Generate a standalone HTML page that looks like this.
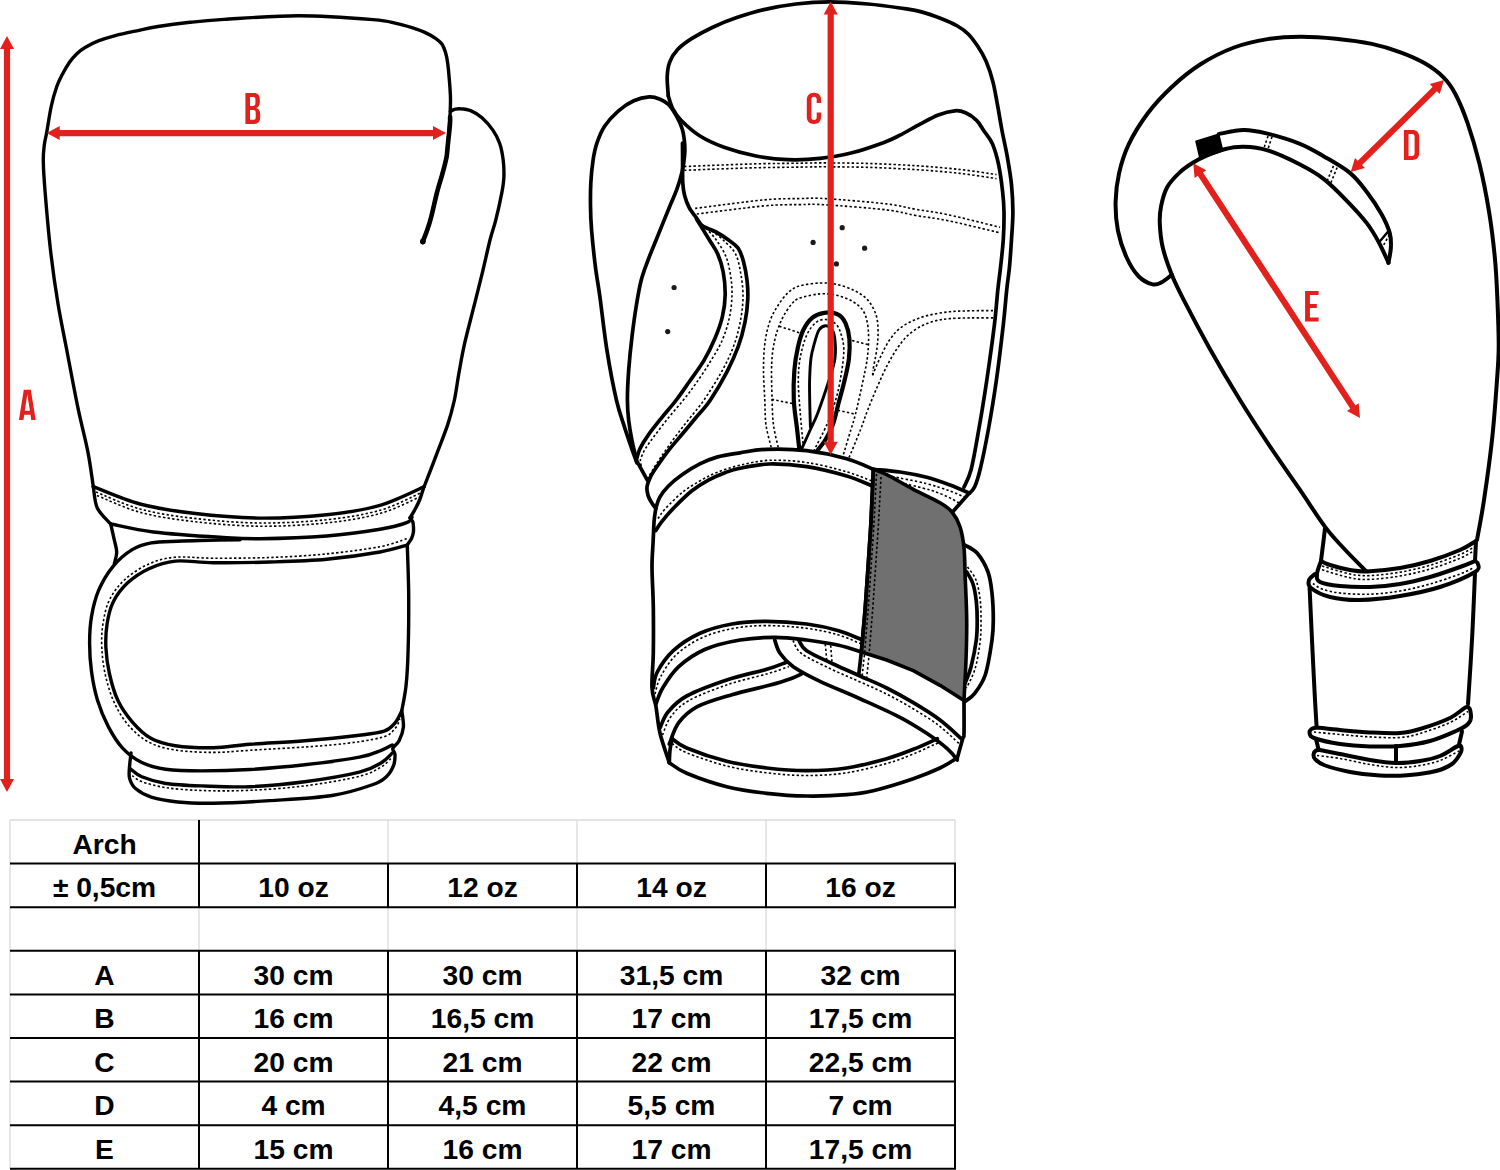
<!DOCTYPE html>
<html><head><meta charset="utf-8"><title>Glove size chart</title>
<style>
html,body{margin:0;padding:0;background:#fff;}
body{width:1500px;height:1170px;overflow:hidden;position:relative;font-family:"Liberation Sans",sans-serif;}
svg{position:absolute;left:0;top:0;display:block;}
.k{fill:none;stroke:#000;stroke-width:3.5;stroke-linecap:round;stroke-linejoin:round;}
.g1 .k{stroke-width:3.4;}
.g2 .k{stroke-width:3.7;}
.g3 .k{stroke-width:4;}
.k2{fill:none;stroke:#000;stroke-width:2.4;stroke-linecap:round;stroke-linejoin:round;}
.w{fill:#fff;stroke:#000;stroke-width:3;stroke-linecap:round;stroke-linejoin:round;}
.d{fill:none;stroke:#000;stroke-width:1.6;stroke-dasharray:2.4 2.25;}
.r{fill:#e3211c;stroke:none;}
.t{font-family:"Liberation Sans",sans-serif;font-weight:bold;font-size:28.2px;fill:#000;text-anchor:middle;}
</style></head><body>
<svg width="1500" height="1170" viewBox="0 0 1500 1170">
<rect x="0" y="0" width="1500" height="1170" fill="#fff"/>
<!-- glove 1 front view -->
<g class="g1">
<path class="k" d="M93.3 486.6C92.4 480.9 90.5 465.5 88.0 452.4C85.5 439.3 81.5 425.0 78.0 408.1C74.5 391.2 70.3 368.6 67.0 351.2C63.7 333.8 60.8 320.7 58.0 303.8C55.2 286.9 52.6 268.5 50.5 250.1C48.4 231.7 46.4 207.9 45.2 193.2C44.0 178.4 43.4 169.6 43.3 161.6C43.1 153.6 43.8 149.8 44.3 145.0C44.8 140.2 45.4 139.5 46.6 133.0C47.8 126.5 49.6 113.7 51.3 106.0C53.0 98.3 54.9 92.0 56.7 86.8C58.5 81.6 59.9 79.2 62.0 75.1C64.1 71.0 67.0 65.9 69.5 62.3C72.0 58.7 74.2 56.2 76.9 53.7C79.6 51.2 81.9 49.4 85.5 47.3C89.1 45.2 93.3 42.8 98.3 40.9C103.3 39.0 108.9 37.3 115.3 35.6C121.7 33.9 129.6 32.3 136.7 30.8C143.8 29.3 149.1 27.9 158.0 26.5C166.9 25.1 179.0 23.5 190.0 22.3C201.0 21.1 205.9 20.5 224.0 19.4C242.1 18.3 273.8 15.7 298.7 15.7C323.6 15.7 357.1 18.3 373.3 19.6C389.5 20.9 389.6 22.0 396.0 23.3C402.4 24.6 407.2 26.1 412.0 27.6C416.8 29.1 420.9 30.6 424.8 32.4C428.7 34.2 432.6 36.3 435.5 38.3C438.4 40.2 440.2 41.7 441.9 44.1C443.6 46.5 444.6 49.5 445.6 52.7C446.6 55.9 447.1 58.9 447.7 63.3C448.3 67.7 448.9 74.0 449.3 79.3C449.8 84.6 450.2 90.8 450.4 95.3C450.6 99.8 450.5 102.2 450.4 106.0C450.3 109.8 450.3 111.3 449.9 117.8C449.5 124.3 448.4 138.5 447.8 145.1C447.2 151.7 447.4 152.6 446.5 157.4C445.6 162.2 444.0 167.9 442.4 173.8C440.8 179.7 438.7 185.8 436.9 192.9C435.1 200.0 433.0 210.0 431.4 216.2C429.8 222.3 428.8 225.5 427.3 229.8C425.8 234.1 423.4 240.1 422.6 242.1"/>
<path class="k" d="M450.1 117.0C450.1 118.3 450.3 120.3 449.9 125.0C449.5 129.7 448.4 139.7 447.8 145.1C447.2 150.5 447.4 152.6 446.5 157.4C445.6 162.2 444.0 167.9 442.4 173.8C440.8 179.7 438.7 185.8 436.9 192.9C435.1 200.0 433.0 210.0 431.4 216.2C429.8 222.3 428.8 225.5 427.3 229.8C425.8 234.1 423.4 240.1 422.6 242.1" style="stroke-width:4.6"/>
<circle cx="422.9" cy="241.3" r="2.9" fill="#000"/>
<path class="k" d="M450.4 111.3C451.1 111.0 453.1 109.8 454.7 109.4C456.3 109.0 457.4 108.5 460.1 108.8C462.8 109.0 467.5 109.4 471.1 110.9C474.8 112.4 478.4 114.6 482.0 117.8C485.6 121.0 489.9 125.8 492.9 130.1C495.9 134.4 498.1 138.7 499.8 143.7C501.5 148.7 502.5 154.6 503.2 160.1C503.9 165.6 504.1 171.0 503.9 176.5C503.7 182.0 503.2 185.6 501.8 192.9C500.4 200.2 497.7 212.5 495.7 220.3C493.7 228.2 492.2 231.2 490.0 240.0C487.8 248.8 485.0 261.8 482.2 273.3C479.4 284.8 476.3 297.0 473.3 308.9C470.3 320.8 466.8 333.7 464.4 344.4C462.0 355.1 460.6 364.0 458.9 373.3C457.2 382.6 456.2 391.5 454.4 400.0C452.5 408.5 450.6 415.9 447.8 424.4C445.0 432.9 441.7 440.8 437.8 451.1C433.9 461.5 426.5 480.6 424.2 486.5"/>
<path class="k" d="M93.3 486.7C101.1 489.6 123.3 499.6 140.0 504.0C156.7 508.4 173.3 510.9 193.3 513.3C213.3 515.6 237.8 517.9 260.0 518.1C282.2 518.3 306.7 516.8 326.7 514.7C346.7 512.6 363.8 510.0 380.0 505.3C396.2 500.6 416.7 489.8 424.0 486.7"/>
<path class="k" d="M93.3 486.7C94.0 490.2 94.4 501.8 97.3 508.0C100.2 514.2 108.5 521.3 110.7 524.0"/>
<path class="k" d="M110.7 524.0C117.8 525.3 135.1 529.8 153.3 532.0C171.5 534.2 202.2 536.2 220.0 537.3C237.8 538.4 242.2 538.9 260.0 538.7C277.8 538.5 306.7 537.6 326.7 536.0C346.7 534.4 366.7 531.5 380.0 529.3C393.3 527.1 401.4 524.7 406.7 522.7C412.0 520.7 411.1 518.2 412.0 517.3"/>
<path class="k" d="M424.0 486.7C423.3 488.9 421.2 496.0 419.6 500.0C418.0 504.0 415.8 507.9 414.2 510.9C412.6 513.9 410.7 516.6 410.0 517.8"/>
<path class="k" d="M410.0 517.8C410.5 518.5 412.2 520.3 412.8 521.9C413.4 523.5 413.4 525.7 413.5 527.5C413.6 529.3 413.6 531.0 413.3 532.8C413.0 534.6 412.5 536.5 411.5 538.5C410.5 540.5 408.2 543.5 407.5 544.5"/>
<path class="d" d="M96.0 492.0C103.3 494.8 123.8 504.6 140.0 509.0C156.2 513.4 173.3 516.0 193.3 518.3C213.3 520.6 237.8 522.8 260.0 523.0C282.2 523.2 306.7 521.8 326.7 519.7C346.7 517.6 364.4 514.7 380.0 510.3C395.6 505.9 413.3 496.1 420.0 493.3"/>
<path class="d" d="M97.0 495.5C104.2 498.3 124.0 508.0 140.0 512.3C156.1 516.6 173.3 519.2 193.3 521.5C213.3 523.8 237.8 526.0 260.0 526.2C282.2 526.4 306.7 525.0 326.7 522.9C346.7 520.8 364.6 517.8 380.0 513.5C395.4 509.2 412.5 500.0 419.0 497.3"/>
<path class="k" d="M110.7 524.0C111.3 526.7 113.3 535.3 114.3 540.0C115.3 544.7 116.7 548.0 116.7 552.0C116.7 556.0 114.7 561.9 114.3 563.9"/>
<path class="k" d="M240.0 539.8C233.3 539.9 210.4 540.3 200.0 540.5C189.6 540.7 185.8 540.8 177.7 541.2C169.6 541.6 158.9 541.5 151.3 542.9C143.7 544.3 138.6 545.7 132.2 549.6C125.8 553.5 118.7 559.5 113.1 566.3C107.5 573.1 102.3 581.8 98.7 590.2C95.1 598.6 93.0 607.8 91.5 616.6C90.0 625.4 89.6 633.7 89.6 642.9C89.6 652.1 90.2 662.0 91.5 671.6C92.8 681.2 94.7 691.1 97.5 700.3C100.3 709.5 104.1 718.6 108.3 726.6C112.5 734.6 117.0 742.1 122.6 748.1C128.2 754.1 134.6 759.0 141.8 762.5C149.0 766.0 155.7 767.8 165.7 769.2C175.7 770.6 187.5 770.9 201.6 770.9C215.7 770.9 232.8 770.5 250.0 769.5C267.2 768.5 286.5 766.8 304.7 764.8C322.9 762.8 346.6 759.6 359.4 757.2C372.2 754.8 375.8 752.3 381.3 750.3C386.8 748.2 390.5 745.8 392.3 744.9"/>
<path class="k" d="M407.3 545.1C402.8 546.2 393.4 549.6 380.0 552.0C366.6 554.4 345.0 557.5 326.7 559.2C308.4 560.9 288.9 561.4 270.0 562.0C251.1 562.6 229.3 562.9 213.5 562.7C197.7 562.6 186.1 560.1 175.3 561.1C164.5 562.1 156.9 565.0 148.9 568.7C140.9 572.4 133.4 577.5 127.4 583.1C121.4 588.7 116.5 595.4 113.1 602.2C109.7 609.0 108.3 616.1 107.1 623.7C105.9 631.3 105.5 639.3 105.9 647.7C106.3 656.1 107.5 665.2 109.5 674.0C111.5 682.8 114.0 692.3 117.8 700.3C121.6 708.3 126.6 715.4 132.2 721.8C137.8 728.2 144.1 734.6 151.3 738.6C158.5 742.6 164.9 744.2 175.3 745.7C185.7 747.2 201.1 747.9 213.5 747.7C225.9 747.5 234.8 745.4 250.0 744.3C265.2 743.1 286.5 742.3 304.7 740.8C322.9 739.3 346.2 736.9 359.4 735.3C372.6 733.7 378.2 733.2 384.1 731.2C390.0 729.2 392.1 726.2 395.0 723.0C397.9 719.8 400.2 713.8 401.3 712.0"/>
<path class="d" d="M406.7 538.7C402.2 540.0 393.3 544.2 380.0 546.7C366.7 549.2 345.0 552.1 326.7 553.9C308.4 555.7 288.9 556.8 270.0 557.5C251.1 558.2 229.3 558.2 213.5 558.2C197.7 558.2 186.1 556.2 175.3 557.2C164.5 558.2 157.3 560.2 148.9 563.9C140.5 567.6 131.6 573.5 125.0 579.5C118.4 585.5 113.2 592.4 109.5 599.8C105.8 607.2 104.3 615.7 103.0 623.7C101.7 631.7 101.4 639.1 101.8 647.7C102.2 656.3 103.3 666.0 105.4 675.2C107.5 684.4 110.4 694.3 114.3 702.7C118.2 711.1 122.8 718.8 128.6 725.4C134.4 732.0 141.1 738.1 148.9 742.2C156.7 746.3 164.5 748.3 175.3 750.0C186.1 751.7 201.1 752.4 213.5 752.4C225.9 752.4 230.2 751.5 250.0 750.3C269.8 749.0 310.2 747.0 332.1 744.9C354.0 742.8 370.8 740.2 381.3 737.5C391.8 734.8 391.9 731.6 395.0 728.5C398.1 725.4 399.1 720.5 399.9 718.9"/>
<path class="k" d="M407.3 545.1C407.5 553.5 408.6 578.2 408.7 595.8C408.8 613.4 408.6 635.5 408.1 650.5C407.7 665.5 407.1 676.0 406.0 686.0C404.9 696.0 402.5 706.6 401.8 710.7"/>
<path class="k" d="M401.8 710.7C402.1 713.4 403.8 722.1 403.4 727.1C402.9 732.1 400.9 737.2 399.1 740.8C397.3 744.4 393.5 746.2 392.8 748.5C392.1 750.8 394.9 751.6 395.0 754.4C395.1 757.2 395.0 761.8 393.6 765.4C392.2 769.0 390.2 773.1 386.8 776.3C383.4 779.5 382.2 781.3 373.1 784.5C364.0 787.7 349.3 792.8 332.1 795.5C314.9 798.2 289.8 799.3 270.0 800.6C250.2 801.9 228.9 803.0 213.5 803.2C198.1 803.4 188.1 803.0 177.7 802.0C167.3 801.0 158.3 799.4 151.3 797.2C144.3 795.0 139.4 791.8 135.8 788.8C132.2 785.8 130.9 782.4 129.8 779.2C128.7 776.0 129.1 774.1 129.3 769.7C129.5 765.3 130.7 755.7 131.0 752.9"/>
<path class="k" d="M130.5 769.0C132.4 770.3 135.9 774.4 141.8 776.8C147.7 779.2 155.7 782.0 165.7 783.5C175.7 785.0 187.5 785.4 201.6 785.9C215.7 786.4 232.8 787.4 250.0 786.7C267.2 786.0 286.5 784.2 304.7 781.8C322.9 779.4 346.6 775.4 359.4 772.2C372.2 769.0 375.8 765.9 381.3 762.7C386.8 759.5 390.5 754.7 392.3 753.1"/>
<path class="d" d="M132.2 775.6C133.8 776.6 136.2 779.6 141.8 781.6C147.4 783.6 155.7 786.1 165.7 787.6C175.7 789.1 187.5 790.0 201.6 790.5C215.7 791.0 232.8 791.1 250.0 790.3C267.2 789.5 286.5 788.2 304.7 785.9C322.9 783.6 346.6 779.5 359.4 776.3C372.2 773.1 376.1 769.8 381.3 766.8C386.6 763.8 389.3 759.9 390.9 758.5"/>
</g>
<!-- glove 2 palm view -->
<g class="g2">
<path class="k" d="M668.3 96.0C668.1 92.8 667.0 82.4 667.2 76.8C667.4 71.2 667.9 66.9 669.6 62.4C671.3 57.9 673.9 53.6 677.6 49.6C681.3 45.6 686.1 42.1 692.0 38.4C697.9 34.7 705.3 30.7 712.8 27.2C720.3 23.7 728.3 20.5 736.8 17.6C745.3 14.7 754.1 11.9 764.0 9.6C773.9 7.3 785.1 5.3 796.0 4.0C806.9 2.7 817.6 1.9 829.6 1.9C841.6 1.9 856.3 3.0 868.0 4.0C879.7 5.0 891.2 6.7 900.0 8.0C908.8 9.3 913.7 9.8 920.5 11.6C927.3 13.3 934.9 16.1 941.0 18.5C947.1 20.9 952.8 23.4 957.4 26.0C962.0 28.6 965.0 30.8 968.4 34.2C971.8 37.6 974.9 42.0 977.9 46.5C980.9 51.0 983.7 55.6 986.2 61.5C988.7 67.4 991.1 74.6 993.0 82.1C994.9 89.6 996.3 98.7 997.8 106.7C999.3 114.7 1000.3 121.5 1001.9 130.0C1003.5 138.4 1005.8 148.3 1007.4 157.4C1009.0 166.5 1010.6 175.6 1011.5 184.7C1012.4 193.8 1012.9 203.0 1012.9 212.1C1012.9 221.2 1012.1 230.3 1011.5 239.4C1010.9 248.5 1010.3 258.4 1009.5 266.8C1008.7 275.2 1007.7 280.4 1006.7 290.0C1005.7 299.6 1005.0 309.8 1003.3 324.7C1001.6 339.6 999.0 361.8 996.5 379.4C994.0 396.9 991.0 414.9 988.3 430.0C985.5 445.1 982.3 460.6 980.0 470.0C977.7 479.4 976.5 482.8 974.7 486.7C972.9 490.6 970.2 492.2 969.3 493.3"/>
<path class="k" d="M668.3 96.0C669.0 98.1 670.7 104.8 672.8 108.8C674.9 112.8 676.3 115.5 680.8 120.0C685.3 124.5 692.8 131.5 700.0 136.0C707.2 140.5 714.7 143.9 724.0 147.2C733.3 150.5 745.3 153.9 756.0 156.0C766.7 158.1 777.3 159.3 788.0 159.7C798.7 160.1 809.3 159.6 820.0 158.4C830.7 157.2 841.3 155.5 852.0 152.8C862.7 150.1 876.0 145.3 884.0 142.4C892.0 139.5 893.9 138.3 900.0 135.2C906.1 132.1 914.1 127.2 920.5 123.8C926.9 120.4 932.6 117.1 938.3 114.9C944.0 112.7 950.2 111.2 954.7 110.8C959.2 110.4 962.0 111.2 965.6 112.8C969.2 114.4 973.5 117.3 976.6 120.3C979.7 123.3 981.4 127.1 984.0 131.0C986.6 134.9 990.0 138.2 992.4 143.7C994.8 149.2 996.8 156.2 998.5 164.2C1000.2 172.2 1001.7 183.6 1002.6 191.6C1003.5 199.6 1003.9 204.1 1004.0 212.1C1004.1 220.1 1003.9 230.3 1003.3 239.4C1002.7 248.5 1001.5 258.4 1000.6 266.8C999.7 275.2 998.8 280.4 997.8 290.0C996.8 299.6 996.2 309.8 994.4 324.7C992.6 339.6 989.5 361.8 986.9 379.4C984.3 396.9 981.4 414.9 978.7 430.0C976.1 445.1 973.5 460.5 971.0 470.0C968.5 479.5 965.2 484.2 964.0 487.0"/>
<path class="k" d="M636.9 462.9C636.0 460.4 633.5 453.8 631.5 447.9C629.5 442.0 627.1 435.4 624.6 427.4C622.1 419.4 619.4 413.0 616.4 400.0C613.4 387.0 609.5 366.5 606.8 349.4C604.1 332.3 601.9 311.4 600.0 297.5C598.1 283.6 596.7 277.4 595.3 266.0C593.9 254.6 592.3 239.2 591.5 229.2C590.7 219.2 590.6 213.9 590.5 206.2C590.4 198.5 590.4 190.8 590.8 183.1C591.2 175.4 592.1 166.7 593.1 160.0C594.1 153.3 595.0 148.7 596.9 143.1C598.8 137.5 601.0 131.6 604.6 126.2C608.2 120.8 613.6 115.0 618.5 110.8C623.4 106.6 628.7 103.1 633.8 100.8C638.9 98.5 644.8 97.2 649.2 96.9C653.6 96.6 656.8 97.9 660.0 99.2C663.2 100.5 665.7 101.6 668.5 104.6C671.3 107.5 674.6 112.8 676.9 116.9C679.2 121.0 681.0 124.8 682.3 129.2C683.6 133.6 684.2 138.7 684.6 143.1C685.0 147.5 685.0 150.8 684.6 155.4C684.2 160.0 683.6 165.2 682.3 170.8C681.0 176.4 679.1 183.0 676.9 189.2C674.7 195.3 672.7 199.2 669.2 207.7C665.7 216.2 659.7 231.2 656.1 240.0C652.5 248.8 650.4 253.7 647.9 260.5C645.4 267.3 642.9 273.5 641.0 281.0C639.1 288.5 637.8 296.6 636.3 305.7C634.8 314.8 633.4 325.1 632.1 335.8C630.8 346.5 629.5 359.3 628.7 370.0C627.9 380.7 627.4 391.6 627.4 400.0C627.4 408.4 627.9 413.7 628.7 420.5C629.5 427.3 630.8 434.6 632.1 441.0C633.4 447.4 635.6 455.8 636.3 458.8"/>
<path class="k" d="M682.5 143.1C682.5 146.8 682.6 158.3 682.6 165.0C682.6 171.7 682.5 178.0 682.8 183.1C683.1 188.2 683.5 191.3 684.6 195.4C685.7 199.5 687.2 203.8 689.2 207.7C691.2 211.5 694.6 215.4 696.9 218.5C699.1 221.6 699.5 223.8 702.7 226.1C705.9 228.3 711.7 229.7 716.0 232.0C720.3 234.3 724.9 237.3 728.6 240.0C732.3 242.7 735.7 244.5 738.2 248.2C740.7 251.8 742.1 256.4 743.6 261.9C745.1 267.4 746.4 274.6 747.1 281.0C747.8 287.4 748.1 293.3 747.7 300.2C747.4 307.1 746.6 314.4 745.0 322.1C743.4 329.9 741.2 338.5 738.2 346.7C735.2 354.9 731.8 362.4 727.2 371.3C722.6 380.2 715.6 392.2 710.4 400.0C705.2 407.8 700.5 412.1 695.8 417.8C691.1 423.5 686.7 428.7 682.1 434.2C677.5 439.7 672.5 445.4 668.4 450.6C664.3 455.9 660.5 461.4 657.5 465.7C654.5 470.0 652.4 473.1 650.6 476.6C648.9 480.2 647.4 483.8 647.0 487.0C646.6 490.2 647.3 492.9 648.1 495.6C648.9 498.3 650.7 501.1 652.0 503.2C653.3 505.3 655.2 507.5 655.8 508.4"/>
<path class="k" d="M696.5 219.0C698.6 222.5 705.9 234.2 709.4 240.0C712.9 245.8 715.3 248.4 717.6 253.7C719.9 258.9 721.8 264.7 723.1 271.5C724.4 278.3 725.3 287.2 725.2 294.7C725.1 302.2 724.1 309.3 722.4 316.6C720.7 323.9 718.0 331.2 714.9 338.5C711.8 345.8 708.3 353.1 704.0 360.4C699.7 367.7 693.5 375.7 688.9 382.3C684.3 388.9 680.8 394.1 676.3 400.0C671.8 405.9 666.3 411.9 661.6 417.8C656.9 423.7 651.5 430.4 647.9 435.6C644.2 440.8 641.6 445.1 639.7 449.2C637.8 453.3 636.9 458.4 636.3 460.2"/>
<path class="k" d="M636.3 460.2L647.3 480.2"/>
<path class="d" d="M706.0 228.0C707.7 230.0 713.0 235.3 716.3 240.0C719.6 244.7 723.5 250.5 725.9 256.4C728.3 262.3 729.6 269.2 730.6 275.6C731.6 282.0 732.2 287.6 732.0 294.7C731.8 301.8 731.0 310.2 729.3 318.0C727.6 325.8 725.1 333.7 721.8 341.2C718.5 348.7 713.7 356.0 709.4 363.1C705.1 370.2 700.1 377.5 695.8 383.6C691.5 389.8 688.0 394.3 683.4 400.0C678.8 405.7 673.2 411.9 668.4 417.8C663.6 423.7 658.6 430.4 654.7 435.6C650.8 440.8 647.5 445.1 645.1 449.2C642.7 453.3 641.0 457.4 640.4 460.2C639.8 463.0 641.3 465.0 641.5 466.0"/>
<path class="d" d="M712.0 231.0C713.9 232.5 719.2 236.2 723.1 240.0C727.0 243.8 732.4 248.0 735.4 253.7C738.4 259.4 739.6 266.9 740.9 274.2C742.2 281.5 743.1 289.5 743.0 297.5C742.9 305.5 741.8 313.9 740.2 322.1C738.6 330.3 736.5 338.5 733.4 346.7C730.3 354.9 726.7 362.4 721.8 371.3C716.9 380.2 709.5 392.0 704.0 400.0C698.5 408.0 693.7 413.1 688.9 419.2C684.1 425.3 679.8 430.8 675.2 436.9C670.7 443.0 665.5 450.4 661.6 456.1C657.7 461.8 654.3 467.5 652.0 471.1C649.7 474.8 648.6 476.9 647.9 478.0"/>
<path class="d" d="M684.3 166.5C695.2 166.1 730.7 164.6 750.0 164.0C769.3 163.4 787.5 163.4 800.0 163.2C812.5 163.0 813.6 162.8 825.3 162.9C837.0 163.0 854.7 163.0 870.0 163.5C885.3 164.0 902.3 164.8 917.3 165.8C932.3 166.8 946.8 168.1 960.0 169.5C973.2 170.9 990.4 173.7 996.5 174.5"/>
<path class="d" d="M684.3 170.3C695.2 169.9 730.7 168.4 750.0 167.9C769.3 167.4 787.5 167.3 800.0 167.1C812.5 166.9 813.6 166.8 825.3 166.8C837.0 166.9 854.7 166.9 870.0 167.4C885.3 167.9 902.3 168.7 917.3 169.7C932.3 170.7 946.8 171.9 960.0 173.4C973.2 174.9 990.4 177.7 996.5 178.6"/>
<path class="d" d="M695.2 208.4C706.7 207.0 746.5 201.5 764.0 199.9C781.5 198.3 789.8 198.8 800.0 198.6C810.2 198.4 810.8 197.7 825.3 198.6C839.8 199.5 871.6 202.1 886.7 203.9C901.8 205.7 905.6 207.5 915.8 209.3C926.0 211.1 934.0 211.7 948.0 214.7C962.0 217.7 991.4 225.2 1000.1 227.3"/>
<path class="d" d="M696.8 214.0C708.0 212.7 746.8 207.5 764.0 205.9C781.2 204.3 789.8 204.8 800.0 204.6C810.2 204.4 810.8 203.9 825.3 204.8C839.8 205.7 871.6 208.1 886.7 209.9C901.8 211.7 905.6 213.7 915.8 215.5C926.0 217.3 934.0 217.8 948.0 220.7C962.0 223.6 991.4 230.8 1000.1 232.8"/>
<circle cx="842.2" cy="227.7" r="2.6" fill="#1a1a1a"/>
<circle cx="813.1" cy="242.4" r="2.6" fill="#1a1a1a"/>
<circle cx="864.6" cy="248.2" r="2.6" fill="#1a1a1a"/>
<circle cx="836.4" cy="263.9" r="2.6" fill="#1a1a1a"/>
<circle cx="674.1" cy="287.5" r="2.6" fill="#1a1a1a"/>
<circle cx="667.7" cy="331.6" r="2.6" fill="#1a1a1a"/>
<path class="d" d="M771.2 447.2C770.3 443.5 767.1 432.9 766.0 425.0C764.9 417.1 765.2 409.2 764.8 400.0C764.4 390.8 763.5 379.3 763.5 370.0C763.5 360.7 763.8 352.0 764.8 344.0C765.8 336.0 767.4 328.5 769.6 322.1C771.8 315.7 774.6 310.7 777.8 305.7C781.0 300.7 785.1 295.3 788.8 292.0C792.5 288.7 794.8 287.3 800.0 285.8C805.2 284.3 813.9 283.2 820.0 283.0C826.1 282.8 830.7 283.1 836.4 284.4C842.1 285.6 849.0 287.9 854.2 290.5C859.5 293.1 864.2 296.0 867.9 300.1C871.5 304.2 874.4 309.9 876.1 315.1C877.8 320.4 878.0 325.9 878.1 331.6C878.2 337.3 877.7 342.7 876.8 349.3C875.9 355.9 873.4 367.6 872.7 371.2"/>
<path class="d" d="M778.2 447.2C777.4 443.5 774.5 432.9 773.5 425.0C772.5 417.1 772.4 410.3 772.1 400.0C771.8 389.7 771.2 373.4 771.7 363.1C772.2 352.9 773.4 345.8 775.1 338.5C776.8 331.2 779.2 325.0 781.9 319.3C784.6 313.6 788.5 307.8 791.5 304.3C794.5 300.8 795.2 299.8 800.0 298.1C804.8 296.4 813.9 294.4 820.0 293.9C826.1 293.4 831.1 294.1 836.4 295.3C841.6 296.5 847.2 298.4 851.5 300.8C855.8 303.2 859.8 306.2 862.4 309.7C865.0 313.2 866.2 317.2 867.2 322.0C868.2 326.8 868.6 332.2 868.6 338.4C868.6 344.5 868.2 351.4 867.2 358.9C866.2 366.4 864.3 374.4 862.4 383.5C860.5 392.6 857.5 405.9 855.6 413.6C853.7 421.4 852.9 423.0 850.8 430.0C848.7 437.0 844.4 451.3 843.1 455.6"/>
<path class="d" d="M993.0 310.6C989.2 310.6 977.7 310.6 970.5 310.8C963.3 311.0 956.9 311.0 950.0 311.7C943.1 312.4 935.6 313.6 929.4 315.1C923.2 316.6 918.0 318.3 913.0 320.6C908.0 322.9 903.2 325.6 899.3 328.8C895.4 332.0 892.7 335.5 889.7 339.8C886.7 344.1 884.0 349.8 881.5 354.8C879.0 359.8 876.2 366.5 874.7 369.9C873.2 373.3 873.0 374.4 872.7 375.3"/>
<path class="d" d="M872.7 375.3L872.7 371.2"/>
<path class="d" d="M993.0 317.9C989.2 317.9 977.7 317.8 970.5 317.9C963.3 318.0 955.7 318.2 950.0 318.6C944.3 319.1 941.1 319.4 936.3 320.6C931.5 321.9 926.0 323.6 921.2 326.1C916.4 328.6 911.6 331.8 907.5 335.7C903.4 339.6 900.0 344.3 896.6 349.3C893.2 354.3 890.2 359.6 887.0 365.8C883.8 372.0 880.7 379.0 877.5 386.3C874.3 393.6 870.8 402.2 867.9 409.5C865.0 416.8 863.6 421.9 860.4 430.0C857.2 438.1 850.7 453.7 848.7 458.4"/>
<path class="d" d="M779.2 326.2L800.0 333.0"/>
<path class="d" d="M852.1 340.5L867.9 344.6"/>
<path class="d" d="M771.7 399.4L794.7 404.0"/>
<path class="d" d="M837.8 410.2L855.6 414.3"/>
<path class="k" d="M799.2 448.2C798.8 444.9 797.9 436.5 797.0 428.5C796.1 420.5 794.2 409.8 793.8 400.0C793.4 390.2 793.7 378.7 794.4 370.0C795.1 361.3 796.3 354.5 797.8 347.8C799.3 341.1 800.9 335.0 803.3 330.0C805.7 325.0 808.7 320.7 812.2 317.8C815.7 314.9 820.1 313.4 824.4 312.8C828.7 312.2 834.3 312.6 837.8 314.4C841.3 316.1 843.7 319.2 845.6 323.3C847.5 327.4 848.9 333.0 849.4 338.9C849.9 344.8 849.7 351.9 848.9 358.9C848.1 365.9 846.1 373.8 844.4 381.1C842.7 388.5 840.5 395.7 838.6 403.0C836.7 410.3 835.0 418.7 832.8 424.8C830.6 430.9 828.0 435.4 825.4 439.8C822.8 444.2 818.4 449.1 817.0 451.0" style="stroke-width:4.2"/>
<path class="k2" d="M810.4 427.0C810.3 422.5 809.8 407.8 809.7 400.0C809.6 392.2 809.4 387.0 809.6 380.0C809.8 373.0 810.2 364.2 811.0 358.0C811.8 351.8 813.3 347.4 814.6 342.7C815.9 338.0 817.2 332.8 819.0 330.0C820.8 327.2 823.3 326.1 825.3 325.8C827.3 325.6 829.5 326.7 831.0 328.5C832.5 330.3 833.8 331.6 834.5 336.5C835.2 341.4 835.9 350.8 835.0 358.0C834.1 365.2 832.0 370.9 829.1 380.0C826.2 389.1 821.0 404.4 817.9 412.7C814.8 420.9 813.0 423.6 810.4 429.5C807.8 435.4 803.4 445.1 802.0 448.2" style="stroke-width:2.9"/>
<path class="d" d="M803.0 443.5C802.5 437.9 800.8 420.6 800.0 410.0C799.2 399.4 798.2 389.0 798.3 380.0C798.4 371.0 799.0 363.6 800.5 356.0C802.0 348.4 804.4 340.1 807.0 334.5C809.6 328.9 813.0 325.0 816.0 322.5C819.0 320.0 822.3 319.5 825.3 319.5C828.3 319.5 831.5 320.6 834.0 322.5C836.5 324.4 838.4 326.4 840.0 331.0C841.6 335.6 843.8 341.8 843.8 350.0C843.8 358.2 841.8 371.1 840.3 380.0C838.8 388.9 836.9 396.0 834.7 403.3C832.5 410.6 830.6 416.1 827.2 423.9C823.8 431.7 816.4 445.6 814.2 450.0"/>
<!-- glove 2 cuff -->
<path class="k" d="M655.8 508.4C656.4 506.5 657.6 501.0 659.7 497.3C661.8 493.6 664.4 490.1 668.2 486.2C672.0 482.3 677.4 477.9 682.7 474.2C688.0 470.5 694.1 466.8 699.8 463.9C705.5 461.0 710.2 459.0 716.9 457.1C723.6 455.2 731.7 454.1 740.0 452.8C748.3 451.5 755.6 449.7 766.7 449.3C777.8 448.9 793.4 449.1 806.7 450.7C820.0 452.3 835.6 455.6 846.7 458.7C857.8 461.8 868.9 467.5 873.3 469.3"/>
<path class="k" d="M655.8 530.6C656.7 529.2 658.3 526.0 661.4 522.1C664.5 518.2 669.2 512.6 674.2 507.5C679.2 502.4 685.6 495.9 691.3 491.3C697.0 486.8 702.7 483.3 708.4 480.2C714.1 477.1 720.2 474.5 725.5 472.5C730.8 470.5 732.7 469.6 740.0 468.2C747.3 466.8 758.2 464.2 769.3 464.0C780.4 463.8 793.8 464.7 806.7 466.7C819.6 468.7 836.0 472.9 846.7 476.0C857.4 479.1 867.0 483.9 871.0 485.5"/>
<path class="d" d="M657.9 518.6C659.2 516.9 661.5 512.8 665.6 508.4C669.7 504.0 677.0 496.7 682.7 492.1C688.4 487.5 694.1 484.3 699.8 481.0C705.5 477.7 710.2 475.1 716.9 472.5C723.6 469.9 731.3 467.2 740.0 465.2C748.7 463.2 758.2 460.8 769.3 460.3C780.4 459.9 793.8 460.6 806.7 462.5C819.6 464.4 835.8 468.7 846.7 471.8C857.6 474.9 867.8 479.5 872.0 481.0"/>
<path class="k" d="M655.8 508.4C655.5 510.5 654.5 515.9 654.1 521.2C653.7 526.5 653.6 532.4 653.2 540.0C652.9 547.6 652.0 555.6 652.0 566.7C652.0 577.8 653.1 592.3 653.3 606.7C653.5 621.1 653.5 639.8 653.3 653.3C653.1 666.8 651.5 679.1 652.0 688.0C652.5 696.9 654.7 699.2 656.0 706.7C657.3 714.2 657.8 724.0 660.0 733.3C662.2 742.6 667.8 757.8 669.3 762.7"/>
<path class="k" d="M873.3 469.3C877.8 469.8 891.1 470.7 900.0 472.0C908.9 473.3 918.4 475.1 926.7 477.3C935.0 479.5 942.9 482.4 950.0 485.0C957.1 487.6 966.1 491.7 969.3 493.0"/>
<path class="k" d="M969.3 493.0L953.0 511.5"/>
<path class="d" d="M892.0 476.5C897.7 477.7 916.3 481.1 926.0 483.5C935.7 485.9 943.6 488.8 950.0 491.0C956.4 493.2 962.1 496.0 964.5 497.0"/>
<path class="d" d="M900.0 482.5C905.0 483.8 922.0 487.6 930.0 490.0C938.0 492.4 943.2 494.8 948.0 497.0C952.8 499.2 957.2 502.0 959.0 503.0"/>
<path d="M873.3 469.3C875.5 470.2 880.0 471.4 886.7 474.7C893.4 478.0 904.4 484.6 913.3 489.3C922.2 494.0 933.5 498.9 940.0 502.7C946.5 506.5 948.7 508.0 952.0 512.0C955.3 516.0 958.0 520.7 960.0 526.7C962.0 532.7 963.1 539.1 964.0 548.0C964.9 556.9 964.8 568.0 965.3 580.0C965.8 592.0 966.6 606.7 966.7 620.0C966.8 633.3 966.5 646.6 966.0 660.0C965.5 673.4 964.3 693.8 964.0 700.5L940.0 685.3L913.3 670.7L886.7 660.0L861.3 652.0L865.3 606.7L870.7 526.7Z" fill="#707070" stroke="#000" stroke-width="3.6" stroke-linejoin="round"/>
<path class="k" d="M873.3 469.3C872.9 478.9 872.0 503.8 870.7 526.7C869.4 549.6 866.9 585.8 865.3 606.7C863.7 627.6 862.4 640.6 861.3 652.0C860.2 663.4 859.1 671.2 858.7 675.0"/>
<path class="d" d="M876.5 474.0L873.8 526.7L868.4 606.7L864.4 655.0L862.0 677.0"/>
<path class="d" d="M881.0 477.0L878.3 526.7L872.9 606.7L868.9 657.0L866.5 679.0"/>
<path class="k" d="M965.3 545.3C967.3 546.6 973.5 548.8 977.3 553.3C981.1 557.8 985.5 565.3 988.0 572.0C990.5 578.7 991.1 585.3 992.0 593.3C992.9 601.3 993.3 612.2 993.3 620.0C993.3 627.8 993.3 630.9 992.0 640.0C990.7 649.1 988.2 665.8 985.3 674.7C982.4 683.6 978.0 688.9 974.7 693.3C971.4 697.7 966.9 700.0 965.3 701.3"/>
<path class="k" d="M966.7 572.0C967.8 574.0 971.4 579.1 973.0 584.0C974.6 588.9 975.6 595.3 976.3 601.3C977.0 607.3 977.2 613.5 977.2 620.0C977.2 626.5 977.3 632.2 976.3 640.0C975.3 647.8 972.8 659.9 971.0 667.0C969.2 674.1 966.2 680.1 965.3 682.7"/>
<path class="d" d="M967.5 567.0C968.9 569.2 973.9 574.5 976.0 580.0C978.1 585.5 979.4 593.3 980.2 600.0C981.0 606.7 981.0 613.2 981.0 620.0C981.0 626.8 981.2 632.8 980.2 641.0C979.2 649.2 977.3 661.2 975.0 669.0C972.7 676.8 967.9 684.8 966.5 688.0"/>
<path class="k" d="M653.3 688.0C654.0 685.3 654.0 678.2 657.3 672.0C660.6 665.8 666.2 657.2 673.3 650.7C680.4 644.2 690.2 637.8 700.0 633.3C709.8 628.8 720.9 626.0 732.0 624.0C743.1 622.0 754.2 621.3 766.7 621.3C779.2 621.3 794.7 622.4 806.7 624.0C818.7 625.6 829.4 628.0 838.7 630.7C848.0 633.4 858.7 638.5 862.7 640.0"/>
<path class="k" d="M656.0 704.0C657.1 701.3 658.9 694.2 662.7 688.0C666.5 681.8 671.6 673.2 678.7 666.7C685.8 660.2 695.1 653.8 705.3 649.3C715.5 644.8 728.4 642.0 740.0 640.0C751.6 638.0 763.6 637.3 774.7 637.3C785.8 637.3 796.0 638.7 806.7 640.0C817.4 641.3 829.6 643.3 838.7 645.3C847.8 647.3 857.5 650.9 861.3 652.0"/>
<path class="d" d="M655.0 694.0C655.9 691.2 657.0 683.5 660.5 677.0C664.0 670.5 669.1 661.5 676.0 655.0C682.9 648.5 692.3 642.2 702.0 637.7C711.7 633.2 723.2 630.3 734.0 628.3C744.8 626.3 754.6 625.6 766.7 625.6C778.8 625.6 794.7 626.7 806.7 628.3C818.7 629.9 829.5 632.3 838.7 635.0C847.9 637.7 858.1 642.8 862.0 644.3"/>
<path class="k" d="M660.0 728.0C661.3 725.3 663.5 717.3 668.0 712.0C672.5 706.7 676.9 701.3 686.7 696.0C696.5 690.7 713.4 684.5 726.7 680.0C740.0 675.5 756.9 672.2 766.7 669.3C776.5 666.4 782.2 663.8 785.3 662.7"/>
<path class="k" d="M669.3 744.0C670.9 740.5 674.0 728.9 678.7 722.7C683.4 716.5 688.4 711.4 697.3 706.7C706.2 702.0 720.0 698.3 732.0 694.7C744.0 691.1 759.5 688.0 769.3 685.3C779.1 682.6 785.1 680.7 790.7 678.7C796.3 676.7 800.7 674.2 802.7 673.3"/>
<path class="d" d="M662.5 735.0C663.9 731.9 666.6 722.2 671.0 716.5C675.4 710.8 679.5 705.8 689.0 700.5C698.5 695.2 714.8 689.0 728.0 684.5C741.2 680.0 757.8 676.6 768.0 673.6C778.2 670.6 785.5 667.7 789.0 666.5"/>
<path class="k" d="M774.7 640.0C775.6 642.2 776.9 648.8 780.0 653.3C783.1 657.8 786.6 662.0 793.3 666.7C800.0 671.4 808.9 676.0 820.0 681.3C831.1 686.6 846.7 692.7 860.0 698.7C873.3 704.7 888.9 711.5 900.0 717.3C911.1 723.1 918.7 728.0 926.7 733.3C934.7 738.6 942.9 744.8 948.0 749.3C953.1 753.8 955.8 758.2 957.3 760.0"/>
<path class="k" d="M798.7 640.0C800.0 641.8 800.9 646.7 806.7 650.7C812.5 654.7 824.4 659.8 833.3 664.0C842.2 668.2 851.1 672.0 860.0 676.0C868.9 680.0 877.8 683.5 886.7 688.0C895.6 692.5 904.4 697.4 913.3 702.7C922.2 708.0 932.0 714.0 940.0 720.0C948.0 726.0 957.8 735.6 961.3 738.7"/>
<path class="d" d="M793.0 640.5C794.4 642.7 795.3 648.8 801.5 653.5C807.7 658.2 820.6 663.9 830.0 668.5C839.4 673.1 848.9 676.9 858.0 681.0C867.1 685.1 875.7 688.6 884.5 693.0C893.3 697.4 902.2 702.2 911.0 707.5C919.8 712.8 929.5 718.5 937.5 724.5C945.5 730.5 955.4 740.3 959.0 743.5"/>
<path class="d" d="M825.3 644.0L826.7 660.0"/>
<path class="d" d="M830.7 645.3L832.0 662.4"/>
<path class="k" d="M964.0 700.5C964.0 706.0 964.2 726.9 964.0 733.3C963.8 739.7 963.8 734.6 962.7 738.7C961.6 742.8 958.2 754.8 957.3 758.0"/>
<path class="k" d="M669.3 762.7C672.2 764.5 677.1 769.3 686.7 773.3C696.3 777.3 713.4 783.4 726.7 786.7C740.0 790.0 753.4 791.8 766.7 793.3C780.0 794.8 793.4 795.8 806.7 796.0C820.0 796.2 835.6 795.6 846.7 794.7C857.8 793.8 862.2 793.4 873.3 790.7C884.4 788.0 902.2 782.5 913.3 778.7C924.4 774.9 932.9 771.3 940.0 768.0C947.1 764.7 953.3 760.2 956.0 758.7"/>
<path class="k" d="M672.0 738.7C674.5 740.2 677.6 744.2 686.7 748.0C695.8 751.8 713.4 758.0 726.7 761.3C740.0 764.6 753.4 766.4 766.7 768.0C780.0 769.6 793.4 770.7 806.7 770.7C820.0 770.7 833.4 770.0 846.7 768.0C860.0 766.0 875.6 761.8 886.7 758.7C897.8 755.6 904.9 752.6 913.3 749.3C921.7 746.0 933.3 740.5 937.3 738.7"/>
<path class="d" d="M672.0 743.5C674.5 745.0 677.6 749.0 686.7 752.8C695.8 756.5 713.4 762.7 726.7 766.0C740.0 769.3 753.4 771.2 766.7 772.8C780.0 774.4 793.4 775.5 806.7 775.5C820.0 775.5 833.4 774.8 846.7 772.8C860.0 770.8 875.6 766.6 886.7 763.5C897.8 760.4 904.2 757.7 913.3 754.0C922.3 750.3 936.4 743.6 941.0 741.5"/>
<path class="k" d="M672.0 738.7C671.7 740.6 670.5 746.0 670.0 750.0C669.5 754.0 669.4 760.6 669.3 762.7"/>
</g>
<!-- glove 3 side view -->
<g class="g3">
<path class="k" d="M1171.8 274.8C1170.2 276.0 1165.4 280.4 1162.2 282.0C1159.0 283.6 1156.6 285.4 1152.6 284.4C1148.6 283.4 1142.7 280.6 1138.3 276.0C1133.9 271.4 1129.7 264.4 1126.3 256.8C1122.9 249.2 1119.7 239.7 1117.9 230.5C1116.1 221.3 1115.4 211.4 1115.6 201.8C1115.8 192.2 1116.9 182.7 1119.1 173.1C1121.3 163.5 1123.9 154.4 1128.7 144.4C1133.5 134.4 1140.6 122.9 1147.8 113.3C1155.0 103.7 1163.0 95.2 1171.8 87.0C1180.6 78.8 1190.1 70.9 1200.5 64.3C1210.9 57.7 1222.8 51.7 1234.0 47.5C1245.2 43.3 1256.5 40.9 1267.5 39.1C1278.5 37.3 1288.6 36.8 1300.0 36.7C1311.4 36.6 1323.9 37.5 1335.9 38.7C1347.9 39.9 1361.0 41.6 1371.8 43.9C1382.6 46.2 1391.7 49.1 1400.5 52.3C1409.3 55.5 1417.2 58.9 1424.4 63.1C1431.6 67.3 1438.3 72.2 1443.5 77.4C1448.7 82.6 1451.5 86.6 1455.5 94.2C1459.5 101.8 1463.5 111.4 1467.5 122.9C1471.5 134.5 1475.8 148.8 1479.4 163.5C1483.0 178.2 1486.4 195.5 1489.0 211.4C1491.6 227.3 1493.6 244.4 1495.0 259.2C1496.4 273.9 1496.8 285.3 1497.4 299.9C1498.0 314.5 1498.8 333.3 1498.7 346.7C1498.6 360.1 1498.1 364.4 1497.0 380.0C1495.9 395.6 1494.2 420.0 1492.0 440.0C1489.8 460.0 1486.5 483.3 1484.0 500.0C1481.5 516.7 1478.2 533.3 1477.0 540.0"/>
<path class="k" d="M1388.5 262.8C1386.9 259.4 1382.5 249.1 1378.9 242.5C1375.3 235.9 1372.2 230.2 1367.0 223.4C1361.8 216.6 1355.0 209.2 1347.8 201.8C1340.6 194.4 1331.9 185.3 1323.9 179.1C1315.9 172.9 1309.4 169.3 1300.0 164.5C1290.6 159.7 1276.9 153.3 1267.5 150.4C1258.1 147.5 1250.7 147.0 1243.5 146.8C1236.3 146.6 1230.4 147.8 1224.4 149.2C1218.4 150.6 1213.0 152.9 1207.7 155.2C1202.4 157.5 1197.6 159.8 1192.8 162.8C1188.0 165.8 1183.3 169.0 1179.0 173.1C1174.7 177.2 1170.0 181.9 1167.0 187.5C1164.0 193.1 1162.2 200.6 1161.0 206.6C1159.8 212.6 1159.5 216.6 1159.8 223.4C1160.1 230.2 1160.7 238.7 1162.7 247.3C1164.7 255.9 1168.3 266.0 1171.8 274.8C1175.3 283.6 1177.4 287.6 1183.7 299.9C1190.0 312.2 1200.5 332.1 1209.8 348.7C1219.1 365.3 1229.7 383.3 1239.7 399.5C1249.7 415.7 1259.6 430.9 1269.6 445.9C1279.6 460.8 1290.3 475.8 1299.5 489.2C1308.7 502.6 1317.4 516.6 1324.9 526.6C1332.4 536.6 1337.6 541.6 1344.4 549.0C1351.2 556.4 1362.4 567.3 1366.0 571.0"/>
<path class="k" d="M1218.7 134.1C1222.8 133.4 1235.4 130.1 1243.5 130.0C1251.6 129.9 1258.1 131.3 1267.5 133.6C1276.9 135.9 1290.6 140.0 1300.0 143.8C1309.4 147.6 1315.5 151.5 1323.9 156.4C1332.3 161.3 1343.0 167.1 1350.2 173.1C1357.4 179.1 1361.8 185.4 1367.0 192.2C1372.2 199.0 1377.5 207.0 1381.3 213.8C1385.1 220.6 1388.1 227.3 1389.7 232.9C1391.3 238.5 1391.1 242.3 1390.9 247.3C1390.7 252.3 1388.9 260.2 1388.5 262.8"/>
<path d="M1196 141.3L1218.7 134.1L1222.7 150.7L1200 158.7Z" fill="#000" stroke="#000" stroke-width="1.5" stroke-linejoin="round"/>
<path class="k2" d="M1378.9 242.5L1389.0 230.5"/>
<path class="d" d="M1268.0 136.0L1264.0 148.0"/>
<path class="d" d="M1272.0 136.8L1268.0 148.8"/>
<path class="d" d="M1333.5 165.9L1326.3 182.7"/>
<path class="d" d="M1337.1 167.6L1329.9 185.1"/>
<path class="d" d="M1383.7 244.9L1389.0 235.3"/>
<path class="k" d="M1325.0 528.0C1324.7 530.8 1323.7 539.5 1323.0 545.0C1322.3 550.5 1321.3 558.3 1321.0 561.0"/>
<path class="k" d="M1321.0 561.0C1322.5 561.7 1325.2 563.5 1330.0 565.0C1334.8 566.5 1343.8 568.9 1350.0 570.0C1356.2 571.1 1358.7 571.7 1367.0 571.4C1375.3 571.1 1389.5 569.7 1400.0 568.0C1410.5 566.3 1420.0 564.0 1430.0 561.0C1440.0 558.0 1452.3 553.3 1460.0 550.0C1467.7 546.7 1473.3 542.5 1476.0 541.0"/>
<path class="k" d="M1321.0 561.0C1320.3 563.2 1317.2 570.5 1317.0 574.0C1316.8 577.5 1316.2 580.0 1320.0 582.0C1323.8 584.0 1331.7 585.2 1340.0 586.0C1348.3 586.8 1360.0 587.3 1370.0 587.0C1380.0 586.7 1390.0 585.7 1400.0 584.0C1410.0 582.3 1420.0 579.8 1430.0 577.0C1440.0 574.2 1452.5 569.7 1460.0 567.0C1467.5 564.3 1472.5 562.0 1475.0 561.0"/>
<path class="k" d="M1476.0 541.0L1475.0 561.0"/>
<path class="d" d="M1322.0 566.0C1326.7 567.3 1342.0 572.4 1350.0 574.0C1358.0 575.6 1361.7 575.9 1370.0 575.6C1378.3 575.3 1390.0 573.9 1400.0 572.2C1410.0 570.5 1420.0 568.2 1430.0 565.3C1440.0 562.3 1452.7 557.5 1460.0 554.5C1467.3 551.5 1471.7 548.2 1474.0 547.0"/>
<path class="d" d="M1322.0 569.8C1326.7 571.1 1342.0 576.2 1350.0 577.8C1358.0 579.4 1361.7 579.7 1370.0 579.4C1378.3 579.1 1390.0 577.7 1400.0 576.0C1410.0 574.3 1420.0 572.0 1430.0 569.1C1440.0 566.1 1452.7 561.3 1460.0 558.3C1467.3 555.2 1471.7 552.0 1474.0 550.8"/>
<path class="k" d="M1315.0 574.0C1314.0 575.0 1309.7 577.7 1309.0 580.0C1308.3 582.3 1307.5 585.2 1311.0 588.0C1314.5 590.8 1321.8 595.0 1330.0 597.0C1338.2 599.0 1348.3 600.2 1360.0 600.0C1371.7 599.8 1386.7 598.2 1400.0 596.0C1413.3 593.8 1427.5 591.0 1440.0 587.0C1452.5 583.0 1468.7 575.8 1475.0 572.0C1481.3 568.2 1478.0 565.8 1478.0 564.0C1478.0 562.2 1475.5 561.5 1475.0 561.0"/>
<path class="d" d="M1313.0 583.5C1314.5 584.4 1317.5 587.4 1322.0 589.0C1326.5 590.6 1332.0 592.1 1340.0 593.0C1348.0 593.9 1360.0 594.5 1370.0 594.2C1380.0 593.9 1390.0 592.7 1400.0 591.0C1410.0 589.3 1420.0 586.8 1430.0 584.0C1440.0 581.2 1452.7 576.8 1460.0 574.0C1467.3 571.2 1471.7 568.6 1474.0 567.5"/>
<path class="k" d="M1309.6 588.0C1310.0 596.7 1311.1 621.3 1312.0 640.0C1312.9 658.7 1314.2 685.5 1315.0 700.0C1315.8 714.5 1316.3 722.5 1316.6 727.0"/>
<path class="k" d="M1475.0 573.0C1474.5 584.2 1473.2 618.2 1472.0 640.0C1470.8 661.8 1468.7 693.3 1468.0 704.0"/>
<path class="k" d="M1316.6 727.4C1320.5 727.8 1331.1 729.2 1340.0 730.0C1348.9 730.8 1360.0 731.9 1370.0 732.4C1380.0 732.9 1391.7 733.6 1400.0 733.0C1408.3 732.4 1411.7 731.5 1420.0 729.0C1428.3 726.5 1442.2 721.7 1450.0 718.0C1457.8 714.3 1463.5 707.3 1467.0 707.0C1470.5 706.7 1470.8 713.2 1471.0 716.0C1471.2 718.8 1470.5 721.5 1468.0 724.0C1465.5 726.5 1462.3 728.2 1456.0 731.0C1449.7 733.8 1439.3 738.5 1430.0 741.0C1420.7 743.5 1410.0 745.1 1400.0 746.0C1390.0 746.9 1380.0 746.7 1370.0 746.4C1360.0 746.1 1349.3 745.4 1340.0 744.0C1330.7 742.6 1319.1 739.8 1314.0 738.0C1308.9 736.2 1310.0 734.5 1309.6 733.0C1309.2 731.5 1310.3 729.9 1311.5 729.0C1312.7 728.1 1315.8 727.7 1316.6 727.4"/>
<path class="d" d="M1314.0 732.0C1318.3 732.4 1330.7 733.7 1340.0 734.5C1349.3 735.3 1360.0 736.4 1370.0 736.9C1380.0 737.4 1391.7 738.1 1400.0 737.5C1408.3 736.9 1411.7 736.0 1420.0 733.5C1428.3 731.0 1442.0 726.2 1450.0 722.5C1458.0 718.8 1465.0 713.3 1468.0 711.5"/>
<path class="k" d="M1316.0 739.0L1318.7 750.0"/>
<path class="k" d="M1462.0 731.5L1458.7 746.0"/>
<path class="k" d="M1396.0 746.0L1396.0 763.0"/>
<path class="k" d="M1320.0 750.0C1323.3 750.7 1331.7 752.3 1340.0 754.0C1348.3 755.7 1360.7 758.5 1370.0 760.0C1379.3 761.5 1387.7 762.8 1396.0 763.0C1404.3 763.2 1412.7 762.2 1420.0 761.0C1427.3 759.8 1433.7 758.5 1440.0 756.0C1446.3 753.5 1454.4 747.3 1458.0 746.0C1461.6 744.7 1461.2 746.7 1461.5 748.0C1461.8 749.3 1461.6 751.3 1460.0 754.0C1458.4 756.7 1456.0 761.2 1452.0 764.0C1448.0 766.8 1443.0 769.2 1436.0 771.0C1429.0 772.8 1419.3 774.2 1410.0 775.0C1400.7 775.8 1390.0 776.1 1380.0 775.6C1370.0 775.1 1359.3 773.8 1350.0 772.0C1340.7 770.2 1329.8 767.2 1324.0 765.0C1318.2 762.8 1316.7 760.8 1315.0 759.0C1313.3 757.2 1313.4 755.4 1313.6 754.0C1313.8 752.6 1314.9 751.2 1316.0 750.5C1317.1 749.8 1319.3 750.1 1320.0 750.0"/>
<path class="d" d="M1317.0 755.5C1320.8 756.0 1331.2 757.0 1340.0 758.5C1348.8 760.0 1360.7 763.0 1370.0 764.5C1379.3 766.0 1387.7 767.3 1396.0 767.5C1404.3 767.7 1412.7 766.7 1420.0 765.5C1427.3 764.3 1433.5 762.9 1440.0 760.5C1446.5 758.1 1455.8 752.6 1459.0 751.0"/>
</g>
<!-- arrows -->
<path class="r" d="M7.0 36.0L0.0 49.0L3.9 49.0L3.9 779.0L0.0 779.0L7.0 792.0L14.0 779.0L10.1 779.0L10.1 49.0L14.0 49.0Z"/>
<path class="r" d="M46.7 133.1L59.7 140.1L59.7 136.2L433.0 136.2L433.0 140.1L446.0 133.1L433.0 126.1L433.0 130.0L59.7 130.0L59.7 126.1Z"/>
<path class="r" d="M830.7 1.5L823.7 14.5L827.6 14.5L827.6 441.7L823.7 441.7L830.7 454.7L837.7 441.7L833.8 441.7L833.8 14.5L837.7 14.5Z"/>
<path class="r" d="M1444.0 80.0L1429.8 84.1L1432.6 86.9L1357.8 160.7L1355.0 157.9L1350.7 172.0L1364.9 167.9L1362.1 165.1L1436.9 91.3L1439.7 94.1Z"/>
<path class="r" d="M1193.3 163.2L1194.6 177.9L1197.8 175.8L1350.3 408.8L1347.0 411.0L1360.0 418.0L1358.7 403.3L1355.5 405.4L1203.0 172.4L1206.3 170.2Z"/>
<!-- labels -->
<path class="r" fill-rule="evenodd" transform="translate(18.9 389.7)" d="M0 30.2L4.9 0L11.9 0L16.8 30.2L12.3 30.2L11.6 25L5.3 25L4.6 30.2ZM5.9 21L11 21L8.4 4.5Z"/>
<path class="r" fill-rule="evenodd" transform="translate(245.4 92.9)" d="M0 0L8.6 0C12.6 0 14.4 2.6 14.4 6.4L14.4 9.2C14.4 12.4 13.3 14.2 11 15.1C13.6 16 14.8 18 14.8 21.4L14.8 24.4C14.8 28.6 12.8 31 8.6 31L0 31ZM4.6 4.1L4.6 13L7.8 13C9.4 13 10 12 10 10.2L10 6.8C10 5 9.4 4.1 7.8 4.1ZM4.6 17.1L4.6 26.9L7.9 26.9C9.6 26.9 10.3 25.9 10.3 24L10.3 20C10.3 18 9.6 17.1 7.9 17.1Z"/>
<path class="r" fill-rule="evenodd" transform="translate(806.8 92.7)" d="M7.2 0C11.8 0 14.3 2.8 14.3 7L14.3 10.2L9.9 10.2L9.9 6.8C9.9 5 8.9 4.1 7.3 4.1C5.6 4.1 4.6 5 4.6 6.8L4.6 24.6C4.6 26.4 5.6 27.3 7.3 27.3C8.9 27.3 9.9 26.4 9.9 24.6L9.9 19.8L14.3 19.8L14.3 24.4C14.3 28.6 11.8 31.4 7.2 31.4C2.6 31.4 0 28.6 0 24.4L0 7C0 2.8 2.6 0 7.2 0Z"/>
<path class="r" fill-rule="evenodd" transform="translate(1403.9 130.0)" d="M0 0L8.4 0C13 0 15.3 2.6 15.3 7.2L15.3 22.8C15.3 27.4 13 30 8.4 30L0 30ZM4.6 4.1L4.6 25.9L8.2 25.9C9.9 25.9 10.7 25 10.7 23.1L10.7 6.9C10.7 5 9.9 4.1 8.2 4.1Z"/>
<path class="r" fill-rule="evenodd" transform="translate(1305.1 290.9)" d="M0 0L13.5 0L13.5 4L4.8 4L4.8 13.2L11.7 13.2L11.7 17.1L4.8 17.1L4.8 26.5L13.5 26.5L13.5 30.5L0 30.5Z"/>
<!-- table -->
<line x1="10.0" y1="820.0" x2="955.0" y2="820.0" stroke="#dadada" stroke-width="1.3"/>
<line x1="10.0" y1="820.0" x2="10.0" y2="1168.8" stroke="#dadada" stroke-width="1.3"/>
<line x1="388.0" y1="820.0" x2="388.0" y2="863.6" stroke="#dadada" stroke-width="1.3"/>
<line x1="577.0" y1="820.0" x2="577.0" y2="863.6" stroke="#dadada" stroke-width="1.3"/>
<line x1="766.0" y1="820.0" x2="766.0" y2="863.6" stroke="#dadada" stroke-width="1.3"/>
<line x1="955.0" y1="820.0" x2="955.0" y2="863.6" stroke="#dadada" stroke-width="1.3"/>
<line x1="199.0" y1="907.2" x2="199.0" y2="950.8" stroke="#dadada" stroke-width="1.3"/>
<line x1="388.0" y1="907.2" x2="388.0" y2="950.8" stroke="#dadada" stroke-width="1.3"/>
<line x1="577.0" y1="907.2" x2="577.0" y2="950.8" stroke="#dadada" stroke-width="1.3"/>
<line x1="766.0" y1="907.2" x2="766.0" y2="950.8" stroke="#dadada" stroke-width="1.3"/>
<line x1="955.0" y1="907.2" x2="955.0" y2="950.8" stroke="#dadada" stroke-width="1.3"/>
<line x1="10.0" y1="863.6" x2="956.0" y2="863.6" stroke="#000" stroke-width="2"/>
<line x1="10.0" y1="907.2" x2="956.0" y2="907.2" stroke="#000" stroke-width="2"/>
<line x1="10.0" y1="950.8" x2="956.0" y2="950.8" stroke="#000" stroke-width="2"/>
<line x1="10.0" y1="994.4" x2="956.0" y2="994.4" stroke="#000" stroke-width="2"/>
<line x1="10.0" y1="1038.0" x2="956.0" y2="1038.0" stroke="#000" stroke-width="2"/>
<line x1="10.0" y1="1081.6" x2="956.0" y2="1081.6" stroke="#000" stroke-width="2"/>
<line x1="10.0" y1="1125.2" x2="956.0" y2="1125.2" stroke="#000" stroke-width="2"/>
<line x1="10.0" y1="1168.8" x2="956.0" y2="1168.8" stroke="#000" stroke-width="2"/>
<line x1="199.0" y1="820.0" x2="199.0" y2="907.2" stroke="#000" stroke-width="2"/>
<line x1="388.0" y1="863.6" x2="388.0" y2="907.2" stroke="#000" stroke-width="2"/>
<line x1="577.0" y1="863.6" x2="577.0" y2="907.2" stroke="#000" stroke-width="2"/>
<line x1="766.0" y1="863.6" x2="766.0" y2="907.2" stroke="#000" stroke-width="2"/>
<line x1="955.0" y1="863.6" x2="955.0" y2="907.2" stroke="#000" stroke-width="2"/>
<line x1="199.0" y1="950.8" x2="199.0" y2="1168.8" stroke="#000" stroke-width="2"/>
<line x1="388.0" y1="950.8" x2="388.0" y2="1168.8" stroke="#000" stroke-width="2"/>
<line x1="577.0" y1="950.8" x2="577.0" y2="1168.8" stroke="#000" stroke-width="2"/>
<line x1="766.0" y1="950.8" x2="766.0" y2="1168.8" stroke="#000" stroke-width="2"/>
<line x1="955.0" y1="950.8" x2="955.0" y2="1168.8" stroke="#000" stroke-width="2"/>
<text class="t" x="104.5" y="853.7">Arch</text>
<text class="t" x="104.5" y="897.3">± 0,5cm</text>
<text class="t" x="293.5" y="897.3">10 oz</text>
<text class="t" x="482.5" y="897.3">12 oz</text>
<text class="t" x="671.5" y="897.3">14 oz</text>
<text class="t" x="860.5" y="897.3">16 oz</text>
<text class="t" x="104.5" y="984.5">A</text>
<text class="t" x="293.5" y="984.5">30 cm</text>
<text class="t" x="482.5" y="984.5">30 cm</text>
<text class="t" x="671.5" y="984.5">31,5 cm</text>
<text class="t" x="860.5" y="984.5">32 cm</text>
<text class="t" x="104.5" y="1028.1">B</text>
<text class="t" x="293.5" y="1028.1">16 cm</text>
<text class="t" x="482.5" y="1028.1">16,5 cm</text>
<text class="t" x="671.5" y="1028.1">17 cm</text>
<text class="t" x="860.5" y="1028.1">17,5 cm</text>
<text class="t" x="104.5" y="1071.7">C</text>
<text class="t" x="293.5" y="1071.7">20 cm</text>
<text class="t" x="482.5" y="1071.7">21 cm</text>
<text class="t" x="671.5" y="1071.7">22 cm</text>
<text class="t" x="860.5" y="1071.7">22,5 cm</text>
<text class="t" x="104.5" y="1115.3">D</text>
<text class="t" x="293.5" y="1115.3">4 cm</text>
<text class="t" x="482.5" y="1115.3">4,5 cm</text>
<text class="t" x="671.5" y="1115.3">5,5 cm</text>
<text class="t" x="860.5" y="1115.3">7 cm</text>
<text class="t" x="104.5" y="1158.9">E</text>
<text class="t" x="293.5" y="1158.9">15 cm</text>
<text class="t" x="482.5" y="1158.9">16 cm</text>
<text class="t" x="671.5" y="1158.9">17 cm</text>
<text class="t" x="860.5" y="1158.9">17,5 cm</text>
</svg>
</body></html>
